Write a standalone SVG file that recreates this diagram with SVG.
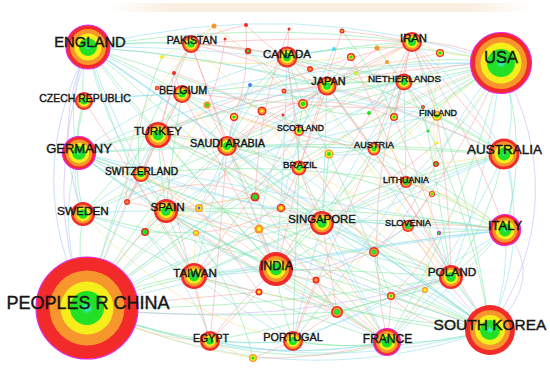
<svg xmlns="http://www.w3.org/2000/svg" width="550" height="376" viewBox="0 0 550 376">
<defs>
<radialGradient id="core"><stop offset="0" stop-color="#3cf0ff"/><stop offset="0.35" stop-color="#22e02a"/><stop offset="1" stop-color="#22e022"/></radialGradient>
<linearGradient id="band" x1="0" x2="1"><stop offset="0" stop-color="#f8ead8" stop-opacity="0"/><stop offset="0.15" stop-color="#f8ead8"/><stop offset="0.85" stop-color="#f8ead8"/><stop offset="1" stop-color="#f8ead8" stop-opacity="0"/></linearGradient>
<style>
#edges path{fill:none;stroke-width:.65;opacity:.85}
.g{stroke:#7ee6a0}.c{stroke:#8edcec}.r{stroke:#f6a4a4}.y{stroke:#f2e284}.o{stroke:#f6c290}.p{stroke:#c4b0f0}.b{stroke:#a0c0f0}
.R{fill:#f22a2a}.O{fill:#f7962c}.Y{fill:#f5ee1a}.G{fill:url(#core)}.Gs{fill:#22e022}.M{stroke:#e428e4;stroke-width:1.2}
text{font-family:"Liberation Sans",Arial,sans-serif;fill:#151515;text-anchor:middle;stroke:#151515;stroke-width:.4}
</style>
</defs>
<rect width="550" height="376" fill="#fff"/>
<rect x="110" y="3" width="420" height="9" rx="4" fill="url(#band)" opacity="0.8"/>
<g id="edges">
<path class="c" d="M501 63Q296 -7 88 47"/>
<path class="g" d="M501 63Q394 35 287 57"/>
<path class="r" d="M501 63Q452 40 412 42"/>
<path class="g" d="M501 63Q410 50 327 86"/>
<path class="c" d="M501 63Q450 60 404 82"/>
<path class="y" d="M501 63Q455 80 437 116"/>
<path class="c" d="M501 63Q520 110 504 154"/>
<path class="g" d="M501 63Q530 145 505 230"/>
<path class="p" d="M501 63Q575 200 490 330"/>
<path class="g" d="M501 63Q280 150 87 308"/>
<path class="c" d="M501 63Q290 60 78 153"/>
<path class="g" d="M501 63Q370 145 276 269"/>
<path class="y" d="M501 63Q400 130 322 223"/>
<path class="c" d="M501 63Q490 170 451 277"/>
<path class="g" d="M501 63Q470 200 387 342"/>
<path class="r" d="M501 63Q320 70 158 134"/>
<path class="c" d="M501 63Q320 110 166 211"/>
<path class="o" d="M501 63Q390 100 299 168"/>
<path class="g" d="M501 63Q440 100 374 149"/>
<path class="c" d="M501 63Q470 125 406 182"/>
<path class="r" d="M501 63Q470 140 408 226"/>
<path class="g" d="M501 63Q350 80 227 146"/>
<path class="c" d="M501 63Q330 150 194 276"/>
<path class="y" d="M501 63Q420 190 293 341"/>
<path class="g" d="M501 63Q280 110 83 214"/>
<path class="c" d="M501 63Q340 60 182 94"/>
<path class="y" d="M501 63Q470 55 440 53"/>
<path class="c" d="M501 63Q460 110 436 164"/>
<path class="c" d="M87 308Q290 400 490 330"/>
<path class="b" d="M87 308Q20 180 88 47"/>
<path class="p" d="M87 308Q40 200 88 47"/>
<path class="c" d="M87 308Q55 230 78 153"/>
<path class="g" d="M87 308Q75 260 83 214"/>
<path class="g" d="M87 308Q140 280 194 276"/>
<path class="g" d="M87 308Q180 270 276 269"/>
<path class="c" d="M87 308Q200 240 322 223"/>
<path class="o" d="M87 308Q150 340 210 341"/>
<path class="g" d="M87 308Q190 350 293 341"/>
<path class="c" d="M87 308Q240 370 387 342"/>
<path class="g" d="M87 308Q270 310 451 277"/>
<path class="c" d="M87 308Q300 250 505 230"/>
<path class="g" d="M87 308Q300 200 504 154"/>
<path class="r" d="M87 308Q120 250 166 211"/>
<path class="c" d="M87 308Q110 210 158 134"/>
<path class="g" d="M87 308Q150 210 227 146"/>
<path class="c" d="M87 308Q200 180 327 86"/>
<path class="g" d="M87 308Q170 160 287 57"/>
<path class="y" d="M87 308Q230 150 412 42"/>
<path class="g" d="M87 308Q120 170 191 44"/>
<path class="o" d="M87 308Q120 200 182 94"/>
<path class="c" d="M87 308Q110 240 141 174"/>
<path class="g" d="M87 308Q190 230 299 168"/>
<path class="c" d="M87 308Q250 180 404 82"/>
<path class="r" d="M87 308Q170 300 259 292"/>
<path class="y" d="M87 308Q170 345 253 358"/>
<path class="g" d="M87 308Q210 320 337 312"/>
<path class="c" d="M87 308Q140 250 199 208"/>
<path class="g" d="M87 308Q290 380 387 342"/>
<path class="c" d="M490 330Q510 280 505 230"/>
<path class="g" d="M490 330Q470 300 451 277"/>
<path class="c" d="M490 330Q440 345 387 342"/>
<path class="g" d="M490 330Q380 310 276 269"/>
<path class="c" d="M490 330Q400 285 322 223"/>
<path class="g" d="M490 330Q340 315 194 276"/>
<path class="c" d="M490 330Q530 240 504 154"/>
<path class="g" d="M490 330Q390 355 293 341"/>
<path class="c" d="M490 330Q250 160 88 47"/>
<path class="g" d="M490 330Q280 230 78 153"/>
<path class="r" d="M490 330Q410 200 327 86"/>
<path class="c" d="M490 330Q390 180 287 57"/>
<path class="g" d="M490 330Q330 260 166 211"/>
<path class="c" d="M490 330Q350 370 210 341"/>
<path class="r" d="M490 330Q440 280 408 226"/>
<path class="y" d="M490 330Q440 310 391 296"/>
<path class="g" d="M490 330Q455 305 425 290"/>
<path class="c" d="M490 330Q330 210 158 134"/>
<path class="g" d="M490 330Q470 180 412 42"/>
<path class="p" d="M490 330Q548 280 505 230"/>
<path class="c" d="M88 47Q65 100 78 153"/>
<path class="g" d="M88 47Q80 75 84 101"/>
<path class="c" d="M88 47Q140 40 191 44"/>
<path class="g" d="M88 47Q135 65 182 94"/>
<path class="c" d="M88 47Q120 95 158 134"/>
<path class="g" d="M88 47Q190 35 287 57"/>
<path class="c" d="M88 47Q300 60 504 154"/>
<path class="g" d="M88 47Q300 110 505 230"/>
<path class="c" d="M88 47Q115 130 166 211"/>
<path class="p" d="M88 47Q50 130 83 214"/>
<path class="g" d="M88 47Q170 150 276 269"/>
<path class="c" d="M88 47Q200 120 322 223"/>
<path class="g" d="M88 47Q250 180 387 342"/>
<path class="c" d="M88 47Q160 95 227 146"/>
<path class="g" d="M88 47Q210 55 327 86"/>
<path class="c" d="M88 47Q250 45 404 82"/>
<path class="g" d="M88 47Q250 20 412 42"/>
<path class="c" d="M88 47Q100 115 141 174"/>
<path class="g" d="M88 47Q120 170 194 276"/>
<path class="c" d="M78 153Q70 185 83 214"/>
<path class="g" d="M78 153Q75 127 84 101"/>
<path class="g" d="M78 153Q110 160 141 174"/>
<path class="c" d="M78 153Q120 185 166 211"/>
<path class="g" d="M78 153Q118 140 158 134"/>
<path class="c" d="M78 153Q290 200 505 230"/>
<path class="g" d="M78 153Q290 140 504 154"/>
<path class="c" d="M78 153Q220 260 387 342"/>
<path class="g" d="M78 153Q170 220 276 269"/>
<path class="c" d="M78 153Q220 140 374 149"/>
<path class="g" d="M78 153Q240 100 404 82"/>
<path class="c" d="M78 153Q130 115 182 94"/>
<path class="g" d="M78 153Q260 230 451 277"/>
<path class="c" d="M78 153Q200 190 322 223"/>
<path class="c" d="M505 230Q520 190 504 154"/>
<path class="g" d="M505 230Q480 250 451 277"/>
<path class="c" d="M505 230Q450 290 387 342"/>
<path class="g" d="M505 230Q330 200 166 211"/>
<path class="c" d="M505 230Q390 240 276 269"/>
<path class="g" d="M505 230Q410 215 322 223"/>
<path class="r" d="M505 230Q455 222 408 226"/>
<path class="c" d="M505 230Q350 250 194 276"/>
<path class="g" d="M505 230Q470 230 439 233"/>
<path class="r" d="M505 230Q470 130 412 42"/>
<path class="g" d="M505 230Q330 160 158 134"/>
<path class="c" d="M505 230Q400 300 293 341"/>
<path class="y" d="M505 230Q455 200 406 182"/>
<path class="g" d="M505 230Q440 180 374 149"/>
<path class="g" d="M504 154Q410 180 322 223"/>
<path class="c" d="M504 154Q390 200 276 269"/>
<path class="g" d="M504 154Q490 220 451 277"/>
<path class="c" d="M504 154Q460 250 387 342"/>
<path class="g" d="M504 154Q470 130 437 116"/>
<path class="c" d="M504 154Q470 90 412 42"/>
<path class="r" d="M504 154Q410 110 327 86"/>
<path class="g" d="M504 154Q400 90 287 57"/>
<path class="c" d="M504 154Q350 210 194 276"/>
<path class="y" d="M504 154Q470 160 436 164"/>
<path class="c" d="M504 154Q450 110 404 82"/>
<path class="g" d="M504 154Q360 140 227 146"/>
<path class="g" d="M387 342Q340 350 293 341"/>
<path class="c" d="M387 342Q420 305 451 277"/>
<path class="g" d="M387 342Q330 300 276 269"/>
<path class="c" d="M387 342Q350 280 322 223"/>
<path class="g" d="M387 342Q280 270 166 211"/>
<path class="c" d="M387 342Q300 360 210 341"/>
<path class="r" d="M387 342Q360 325 337 312"/>
<path class="r" d="M387 342Q390 320 391 296"/>
<path class="g" d="M387 342Q290 310 194 276"/>
<path class="c" d="M387 342Q340 250 299 168"/>
<path class="y" d="M387 342Q280 220 182 94"/>
<path class="r" d="M387 342Q350 310 316 280"/>
<path class="g" d="M276 269Q300 240 322 223"/>
<path class="c" d="M276 269Q235 275 194 276"/>
<path class="r" d="M276 269Q240 300 210 341"/>
<path class="g" d="M276 269Q280 305 293 341"/>
<path class="c" d="M276 269Q250 205 227 146"/>
<path class="r" d="M276 269Q230 150 191 44"/>
<path class="g" d="M276 269Q215 200 158 134"/>
<path class="c" d="M276 269Q220 240 166 211"/>
<path class="g" d="M276 269Q360 270 451 277"/>
<path class="r" d="M276 269Q290 220 299 168"/>
<path class="o" d="M276 269Q265 250 259 229"/>
<path class="r" d="M276 269Q295 278 316 280"/>
<path class="r" d="M276 269Q350 150 412 42"/>
<path class="c" d="M276 269Q285 160 287 57"/>
<path class="r" d="M158 134Q192 135 227 146"/>
<path class="g" d="M158 134Q160 172 166 211"/>
<path class="r" d="M158 134Q170 90 191 44"/>
<path class="r" d="M158 134Q290 70 412 42"/>
<path class="g" d="M158 134Q168 113 182 94"/>
<path class="c" d="M158 134Q148 155 141 174"/>
<path class="r" d="M158 134Q180 240 210 341"/>
<path class="c" d="M158 134Q240 100 327 86"/>
<path class="g" d="M158 134Q240 180 322 223"/>
<path class="r" d="M191 44Q210 95 227 146"/>
<path class="r" d="M191 44Q240 45 287 57"/>
<path class="o" d="M191 44Q202 33 214 26"/>
<path class="r" d="M191 44Q220 30 246 25"/>
<path class="y" d="M191 44Q175 48 162 57"/>
<path class="r" d="M191 44Q220 45 248 51"/>
<path class="r" d="M191 44Q300 35 412 42"/>
<path class="r" d="M191 44Q180 60 174 73"/>
<path class="r" d="M191 44Q260 60 327 86"/>
<path class="r" d="M412 42Q405 62 404 82"/>
<path class="g" d="M412 42Q350 45 287 57"/>
<path class="r" d="M412 42Q370 60 327 86"/>
<path class="y" d="M412 42Q425 45 440 53"/>
<path class="r" d="M412 42Q425 80 437 116"/>
<path class="o" d="M412 42Q395 44 377 48"/>
<path class="r" d="M412 42Q320 90 227 146"/>
<path class="r" d="M412 42Q400 80 394 117"/>
<path class="r" d="M412 42Q377 34 342 31"/>
<path class="r" d="M412 42Q390 100 374 149"/>
<path class="g" d="M287 57Q305 70 327 86"/>
<path class="r" d="M287 57Q288 43 289 29"/>
<path class="c" d="M287 57Q310 52 334 49"/>
<path class="r" d="M287 57Q298 62 310 69"/>
<path class="c" d="M287 57Q235 70 182 94"/>
<path class="g" d="M287 57Q250 100 227 146"/>
<path class="c" d="M287 57Q290 95 299 131"/>
<path class="g" d="M287 57Q345 65 404 82"/>
<path class="r" d="M287 57Q295 110 299 168"/>
<path class="g" d="M287 57Q295 80 303 104"/>
<path class="g" d="M327 86Q365 80 404 82"/>
<path class="c" d="M327 86Q312 110 299 131"/>
<path class="r" d="M327 86Q340 70 351 57"/>
<path class="g" d="M327 86Q340 78 356 73"/>
<path class="r" d="M327 86Q315 95 303 104"/>
<path class="r" d="M327 86Q315 125 299 168"/>
<path class="g" d="M327 86Q350 115 374 149"/>
<path class="c" d="M327 86Q325 155 322 223"/>
<path class="r" d="M327 86Q275 110 227 146"/>
<path class="r" d="M327 86Q305 88 284 91"/>
<path class="c" d="M404 82Q420 98 437 116"/>
<path class="g" d="M404 82Q390 115 374 149"/>
<path class="r" d="M404 82Q398 100 394 117"/>
<path class="r" d="M404 82Q414 95 423 107"/>
<path class="g" d="M404 82Q385 98 369 113"/>
<path class="c" d="M404 82Q405 130 406 182"/>
<path class="g" d="M404 82Q290 80 182 94"/>
<path class="o" d="M404 82Q395 70 387 62"/>
<path class="c" d="M404 82Q360 150 322 223"/>
<path class="r" d="M227 146Q230 130 234 117"/>
<path class="o" d="M227 146Q245 128 262 111"/>
<path class="r" d="M227 146Q215 125 207 105"/>
<path class="r" d="M227 146Q195 180 166 211"/>
<path class="r" d="M227 146Q220 245 210 341"/>
<path class="c" d="M227 146Q210 210 194 276"/>
<path class="g" d="M227 146Q275 185 322 223"/>
<path class="g" d="M227 146Q240 172 255 197"/>
<path class="b" d="M227 146Q235 115 250 85"/>
<path class="g" d="M227 146Q262 155 299 168"/>
<path class="r" d="M182 94Q170 90 157 88"/>
<path class="g" d="M182 94Q195 100 207 105"/>
<path class="c" d="M182 94Q130 95 84 101"/>
<path class="r" d="M182 94Q160 135 141 174"/>
<path class="g" d="M182 94Q172 150 166 211"/>
<path class="c" d="M182 94Q240 110 299 131"/>
<path class="r" d="M182 94Q178 84 174 73"/>
<path class="r" d="M166 211Q146 205 127 202"/>
<path class="o" d="M166 211Q182 208 199 208"/>
<path class="g" d="M166 211Q155 222 145 232"/>
<path class="y" d="M166 211Q180 222 196 233"/>
<path class="c" d="M166 211Q125 210 83 214"/>
<path class="g" d="M166 211Q150 192 141 174"/>
<path class="g" d="M166 211Q180 245 194 276"/>
<path class="c" d="M166 211Q230 280 293 341"/>
<path class="g" d="M166 211Q245 210 322 223"/>
<path class="r" d="M166 211Q210 202 255 197"/>
<path class="o" d="M166 211Q210 222 259 229"/>
<path class="c" d="M83 214Q110 190 141 174"/>
<path class="g" d="M83 214Q70 157 84 101"/>
<path class="g" d="M83 214Q140 250 194 276"/>
<path class="c" d="M83 214Q115 225 145 232"/>
<path class="c" d="M83 214Q260 140 437 116"/>
<path class="g" d="M83 214Q118 172 158 134"/>
<path class="o" d="M194 276Q200 310 210 341"/>
<path class="y" d="M194 276Q194 255 196 233"/>
<path class="r" d="M194 276Q225 285 259 292"/>
<path class="g" d="M194 276Q260 245 322 223"/>
<path class="g" d="M194 276Q168 255 145 232"/>
<path class="c" d="M194 276Q240 310 293 341"/>
<path class="o" d="M194 276Q225 250 259 229"/>
<path class="g" d="M322 223Q365 220 408 226"/>
<path class="r" d="M322 223Q300 214 281 208"/>
<path class="o" d="M322 223Q290 225 259 229"/>
<path class="g" d="M322 223Q348 238 374 252"/>
<path class="r" d="M322 223Q308 195 299 168"/>
<path class="g" d="M322 223Q325 188 329 154"/>
<path class="c" d="M322 223Q365 200 406 182"/>
<path class="g" d="M322 223Q385 245 451 277"/>
<path class="c" d="M322 223Q305 285 293 341"/>
<path class="r" d="M322 223Q330 268 337 312"/>
<path class="g" d="M322 223Q348 185 374 149"/>
<path class="y" d="M451 277Q438 283 425 290"/>
<path class="r" d="M451 277Q420 285 391 296"/>
<path class="r" d="M451 277Q430 250 408 226"/>
<path class="g" d="M451 277Q430 230 406 182"/>
<path class="c" d="M451 277Q445 255 439 233"/>
<path class="g" d="M451 277Q412 262 374 252"/>
<path class="c" d="M451 277Q370 310 293 341"/>
<path class="g" d="M451 277Q330 320 210 341"/>
<path class="r" d="M293 341Q273 350 253 358"/>
<path class="c" d="M293 341Q250 345 210 341"/>
<path class="r" d="M293 341Q315 325 337 312"/>
<path class="r" d="M293 341Q303 310 316 280"/>
<path class="g" d="M293 341Q295 255 299 168"/>
<path class="r" d="M210 341Q235 315 259 292"/>
<path class="y" d="M210 341Q230 352 253 358"/>
<path class="y" d="M437 143Q438 130 437 116"/>
<path class="g" d="M428 131Q432 123 437 116"/>
<path class="c" d="M436 164Q420 172 406 182"/>
<path class="r" d="M432 194Q420 186 406 182"/>
<path class="r" d="M432 194Q420 210 408 226"/>
<path class="g" d="M329 154Q314 160 299 168"/>
<path class="g" d="M329 154Q352 150 374 149"/>
<path class="c" d="M374 149Q390 165 406 182"/>
<path class="c" d="M374 149Q336 138 299 131"/>
<path class="g" d="M299 131Q298 150 299 168"/>
<path class="g" d="M299 131Q300 118 303 104"/>
<path class="g" d="M255 197Q277 183 299 168"/>
<path class="r" d="M281 208Q290 188 299 168"/>
<path class="o" d="M199 208Q170 190 141 174"/>
<path class="r" d="M127 202Q133 188 141 174"/>
<path class="g" d="M145 232Q170 232 196 233"/>
<path class="g" d="M374 252Q390 238 408 226"/>
<path class="r" d="M316 280Q326 296 337 312"/>
<path class="c" d="M84 101Q260 80 437 116"/>
<path class="g" d="M141 174Q270 160 406 182"/>
<path class="c" d="M141 174Q320 230 505 230"/>
<path class="g" d="M83 214Q290 260 490 330"/>
<path class="c" d="M88 47Q300 150 490 330"/>
<path class="g" d="M182 94Q340 220 490 330"/>
<path class="c" d="M227 146Q360 240 490 330"/>
<path class="g" d="M166 211Q320 330 490 330"/>
<path class="p" d="M87 308Q280 330 451 277"/>
<path class="b" d="M78 153Q300 270 490 330"/>
<path class="r" d="M157 88Q230 100 303 104"/>
<path class="y" d="M162 57Q250 70 351 57"/>
<path class="r" d="M174 73Q240 95 299 131"/>
<path class="o" d="M214 26Q260 60 284 91"/>
<path class="r" d="M246 25Q250 80 234 117"/>
<path class="g" d="M248 51Q300 90 329 154"/>
<path class="r" d="M207 105Q300 140 374 149"/>
<path class="y" d="M234 117Q290 130 329 154"/>
<path class="r" d="M262 111Q330 90 394 117"/>
<path class="c" d="M250 85Q330 100 404 82"/>
<path class="r" d="M303 104Q360 110 423 107"/>
<path class="g" d="M284 91Q330 120 369 113"/>
<path class="o" d="M310 69Q370 70 440 53"/>
<path class="r" d="M342 31Q320 100 299 168"/>
<path class="y" d="M356 73Q400 120 436 164"/>
<path class="r" d="M351 57Q380 120 406 182"/>
<path class="g" d="M377 48Q400 80 423 107"/>
<path class="r" d="M289 29Q260 100 255 197"/>
<path class="c" d="M334 49Q300 120 281 208"/>
<path class="r" d="M283 115Q320 180 374 252"/>
<path class="y" d="M369 113Q400 170 432 194"/>
<path class="r" d="M394 117Q420 180 439 233"/>
<path class="g" d="M329 154Q360 220 391 296"/>
<path class="r" d="M255 197Q300 260 337 312"/>
<path class="o" d="M259 229Q300 260 316 280"/>
<path class="y" d="M281 208Q330 260 374 252"/>
<path class="r" d="M199 208Q230 250 259 292"/>
<path class="g" d="M196 233Q240 300 253 358"/>
<path class="c" d="M145 232Q200 300 210 341"/>
<path class="r" d="M127 202Q200 170 255 197"/>
<path class="y" d="M207 105Q170 160 145 232"/>
<path class="r" d="M174 73Q160 150 127 202"/>
<path class="g" d="M162 57Q130 130 141 174"/>
<path class="o" d="M157 88Q120 140 127 202"/>
<path class="r" d="M262 111Q230 170 199 208"/>
<path class="c" d="M303 104Q270 150 259 229"/>
<path class="r" d="M436 164Q400 230 374 252"/>
<path class="y" d="M432 194Q430 240 425 290"/>
<path class="r" d="M439 233Q420 270 391 296"/>
<path class="g" d="M423 107Q440 200 451 277"/>
<path class="r" d="M437 143Q380 190 322 223"/>
<path class="c" d="M428 131Q370 160 329 154"/>
<path class="y" d="M440 53Q430 110 436 164"/>
<path class="r" d="M377 48Q340 80 303 104"/>
<path class="o" d="M387 62Q340 110 299 131"/>
<path class="g" d="M342 31Q380 80 394 117"/>
<path class="r" d="M225 39Q220 80 207 105"/>
<path class="r" d="M246 25Q280 60 310 69"/>
<path class="y" d="M214 26Q180 60 157 88"/>
<path class="c" d="M250 85Q230 150 199 208"/>
<path class="r" d="M316 280Q350 260 374 252"/>
<path class="g" d="M337 312Q380 300 425 290"/>
<path class="r" d="M391 296Q420 330 490 330"/>
<path class="y" d="M425 290Q410 320 387 342"/>
<path class="o" d="M259 292Q300 300 337 312"/>
<path class="r" d="M253 358Q320 360 387 342"/>
<path class="g" d="M374 252Q380 300 391 296"/>
<path class="c" d="M259 229Q310 210 374 252"/>
<path class="r" d="M196 233Q240 230 281 208"/>
<path class="y" d="M145 232Q200 200 255 197"/>
<path class="r" d="M412 42Q460 100 504 154"/>
<path class="y" d="M191 44Q300 140 322 223"/>
<path class="r" d="M182 94Q230 180 276 269"/>
<path class="o" d="M227 146Q300 200 387 342"/>
<path class="r" d="M327 86Q400 180 451 277"/>
<path class="y" d="M287 57Q360 150 408 226"/>
<path class="r" d="M404 82Q360 200 387 342"/>
<path class="o" d="M158 134Q300 200 451 277"/>
<path class="r" d="M166 211Q250 270 337 312"/>
<path class="y" d="M299 168Q380 200 451 277"/>
<path class="r" d="M374 149Q330 250 293 341"/>
<path class="c" d="M406 182Q350 270 293 341"/>
<path class="p" d="M408 226Q330 280 276 269"/>
<path class="r" d="M299 131Q250 200 194 276"/>
<path class="y" d="M83 214Q180 320 293 341"/>
<path class="r" d="M84 101Q150 200 194 276"/>
<path class="o" d="M141 174Q250 250 387 342"/>
<path class="g" d="M404 82Q470 200 490 330"/>
<path class="r" d="M437 116Q450 200 451 277"/>
<path class="y" d="M406 182Q470 200 505 230"/>
</g>
<g id="n1"><circle class="O" cx="214" cy="26" r="2.5"/></g>
<g id="n2"><circle class="R" cx="246" cy="25" r="2"/></g>
<g id="n3"><circle class="R" cx="225" cy="39" r="1.5"/></g>
<g id="n4"><circle class="R" cx="248" cy="51" r="3.2"/><circle class="Gs" cx="248" cy="51" r="1.4"/></g>
<g id="n5"><circle class="Y" cx="162" cy="57" r="2"/></g>
<g id="n6"><circle class="R" cx="174" cy="73" r="2"/></g>
<g id="n7"><circle class="R" cx="157" cy="88" r="2.2"/><circle class="O" cx="157" cy="88" r="1.2"/></g>
<g id="n8"><circle fill="#3a82f0" cx="250" cy="85" r="2"/></g>
<g id="n9"><circle class="O" cx="207" cy="105" r="3.6"/><circle class="Gs" cx="207" cy="105" r="1.8"/></g>
<g id="n10"><circle class="R" cx="234" cy="117" r="4.2"/><circle class="Y" cx="234" cy="117" r="2.7"/><circle class="Gs" cx="234" cy="117" r="1.6"/></g>
<g id="n11"><circle class="R" cx="262" cy="111" r="4.5"/><circle class="O" cx="262" cy="111" r="3"/><circle class="Y" cx="262" cy="111" r="1.6"/></g>
<g id="n12"><circle class="R" cx="440" cy="53" r="4"/><circle class="Y" cx="440" cy="53" r="2.8"/><circle class="G" cx="440" cy="53" r="1.8"/></g>
<g id="n13"><circle class="R" cx="289" cy="29" r="1.5"/></g>
<g id="n14"><circle class="R" cx="342" cy="31" r="2.5"/><circle class="O" cx="342" cy="31" r="1.3"/></g>
<g id="n15"><circle fill="#40e0f4" cx="334" cy="49" r="2"/></g>
<g id="n16"><circle class="R" cx="351" cy="57" r="4"/><circle class="Y" cx="351" cy="57" r="2.6"/><circle class="Gs" cx="351" cy="57" r="1.6"/></g>
<g id="n17"><circle class="O" cx="377" cy="48" r="2.5"/></g>
<g id="n18"><circle class="O" cx="387" cy="62" r="2"/></g>
<g id="n19"><circle class="R" cx="310" cy="69" r="3"/><circle class="O" cx="310" cy="69" r="1.6"/></g>
<g id="n20"><circle fill="#c4f020" cx="356" cy="73" r="2"/></g>
<g id="n21"><circle class="R" cx="284" cy="91" r="2.5"/><circle class="O" cx="284" cy="91" r="1.3"/></g>
<g id="n22"><circle class="R" cx="303" cy="104" r="5"/><circle class="Y" cx="303" cy="104" r="3.4"/><circle class="Gs" cx="303" cy="104" r="2.4"/></g>
<g id="n23"><circle class="R" cx="283" cy="115" r="1.5"/></g>
<g id="n24"><circle class="Gs" cx="369" cy="113" r="2"/></g>
<g id="n25"><circle class="R" cx="394" cy="117" r="4"/><circle class="Y" cx="394" cy="117" r="2.6"/><circle class="Gs" cx="394" cy="117" r="1.5"/></g>
<g id="n26"><circle class="R" cx="423" cy="107" r="2"/><circle class="Gs" cx="423" cy="107" r="1"/></g>
<g id="n27"><circle class="Gs" cx="428" cy="131" r="1.5"/></g>
<g id="n28"><circle class="Y" cx="437" cy="143" r="1.6"/></g>
<g id="n29"><circle class="O" cx="329" cy="154" r="4.5"/><circle class="Y" cx="329" cy="154" r="3.2"/><circle class="Gs" cx="329" cy="154" r="2"/></g>
<g id="n30"><circle class="R" cx="436" cy="164" r="3"/><circle class="Gs" cx="436" cy="164" r="1.5"/></g>
<g id="n31"><circle class="R" cx="127" cy="202" r="3"/><circle class="O" cx="127" cy="202" r="1.6"/></g>
<g id="n32"><circle class="O" cx="199" cy="208" r="4"/><circle class="Y" cx="199" cy="208" r="2.7"/><circle fill="#3a6af0" cx="199" cy="208" r="1.4"/></g>
<g id="n33"><circle class="R" cx="145" cy="232" r="4"/><circle class="Gs" cx="145" cy="232" r="2.6"/></g>
<g id="n34"><circle class="O" cx="196" cy="233" r="3"/><circle class="Y" cx="196" cy="233" r="1.8"/></g>
<g id="n35"><circle class="R" cx="255" cy="197" r="4.5"/><circle class="Gs" cx="255" cy="197" r="2.8"/></g>
<g id="n36"><circle class="O" cx="259" cy="229" r="4.5"/><circle class="Y" cx="259" cy="229" r="2.2"/></g>
<g id="n37"><circle class="R" cx="259" cy="292" r="3.5"/><circle class="Y" cx="259" cy="292" r="1.8"/></g>
<g id="n38"><circle class="O" cx="253" cy="358" r="4"/><circle class="Y" cx="253" cy="358" r="2.8"/><circle class="Gs" cx="253" cy="358" r="1.6"/></g>
<g id="n39"><circle class="R" cx="281" cy="208" r="4.3"/><circle class="O" cx="281" cy="208" r="3"/><circle class="Y" cx="281" cy="208" r="1.7"/></g>
<g id="n40"><circle class="R" cx="432" cy="194" r="3"/><circle class="Y" cx="432" cy="194" r="2"/><circle class="Gs" cx="432" cy="194" r="1.1"/></g>
<g id="n41"><circle fill="#b040e0" cx="439" cy="233" r="2.2"/><circle class="Gs" cx="439" cy="233" r="1.2"/></g>
<g id="n42"><circle class="R" cx="374" cy="252" r="5"/><circle class="O" cx="374" cy="252" r="3.6"/><circle class="G" cx="374" cy="252" r="2.4"/></g>
<g id="n43"><circle class="R" cx="316" cy="280" r="3.5"/><circle class="O" cx="316" cy="280" r="1.8"/></g>
<g id="n44"><circle class="R" cx="391" cy="296" r="4"/><circle class="Y" cx="391" cy="296" r="2.6"/><circle class="Gs" cx="391" cy="296" r="1.4"/></g>
<g id="n45"><circle class="O" cx="425" cy="290" r="3"/><circle class="Y" cx="425" cy="290" r="1.8"/></g>
<g id="n46"><circle class="R" cx="337" cy="312" r="6"/><circle class="O" cx="337" cy="312" r="4.4"/><circle class="G" cx="337" cy="312" r="2.8"/></g>
<g id="scotland" transform="translate(299,131)"><circle class="R" r="5"/><circle class="Y" r="3.4"/><circle class="G" r="2"/><text x="1.5" y="0" font-size="8.6">SCOTLAND</text></g>
<g id="finland" transform="translate(437,116)"><circle class="O" r="5"/><circle class="Y" r="3.4"/><circle class="G" r="2"/><text x="1" y="-0.5" font-size="8.9">FINLAND</text></g>
<g id="slovenia" transform="translate(408,226)"><circle class="R" r="6"/><circle class="O" r="4.5"/><circle class="G" r="3"/><text x="0" y="0" font-size="9.2">SLOVENIA</text></g>
<g id="lithuania" transform="translate(406,182)"><circle class="R" r="6"/><circle class="O" r="4.5"/><circle class="G" r="3"/><text x="0" y="0.5" font-size="8.8">LITHUANIA</text></g>
<g id="austria" transform="translate(374,149)"><circle class="R" r="6.5"/><circle class="O" r="5"/><circle class="Y" r="3.6"/><circle class="G" r="2.4"/><text x="0" y="-1.5" font-size="9.2">AUSTRIA</text></g>
<g id="brazil" transform="translate(299,168)"><circle class="R" r="7.5"/><circle class="O" r="5.8"/><circle class="Y" r="4.2"/><circle class="G" r="2.8"/><text x="1" y="-0.5" font-size="9.7">BRAZIL</text></g>
<g id="switzerland" transform="translate(141,174)"><circle class="R" r="8"/><circle class="O" r="6.4"/><circle class="Y" r="4.8"/><circle class="G" r="3.3"/><text x="0.5" y="0.5" font-size="10.2">SWITZERLAND</text></g>
<g id="netherlands" transform="translate(404,82)"><circle class="R" r="8.5"/><circle class="O" r="6.6"/><circle class="Y" r="5"/><circle class="G" r="3.4"/><text x="0.5" y="0" font-size="9.8">NETHERLANDS</text></g>
<g id="japan" transform="translate(327,86)"><circle class="R" r="9.5"/><circle class="O" r="7.5"/><circle class="Y" r="5.6"/><circle class="G" r="3.8"/><text x="1.5" y="-1" font-size="10.9">JAPAN</text></g>
<g id="belgium" transform="translate(182,94)"><circle class="R" r="9"/><circle class="O" r="7"/><circle class="Y" r="5.3"/><circle class="G" r="3.6"/><text x="1" y="0" font-size="10.7">BELGIUM</text></g>
<g id="czech" transform="translate(84,101)"><circle class="R" r="9"/><circle class="O" r="7"/><circle class="Y" r="5.3"/><circle class="G" r="3.6"/><text x="1" y="0.5" font-size="10.5">CZECH REPUBLIC</text></g>
<g id="pakistan" transform="translate(191,44)"><circle class="R" r="9"/><circle class="O" r="7"/><circle class="Y" r="5.3"/><circle class="G" r="3.6"/><text x="1" y="0" font-size="10.5">PAKISTAN</text></g>
<g id="portugal" transform="translate(293,341)"><circle class="R" r="10"/><circle class="O" r="8"/><circle class="Y" r="6"/><circle class="G" r="4"/><text x="0" y="0" font-size="10.9">PORTUGAL</text></g>
<g id="egypt" transform="translate(210,341)"><circle class="R" r="10"/><circle class="O" r="7.6"/><circle class="Y" r="5.4"/><circle class="G" r="3.6"/><text x="1" y="0.5" font-size="10.6">EGYPT</text></g>
<g id="saudi" transform="translate(227,146)"><circle class="R" r="10"/><circle class="O" r="8"/><circle class="Y" r="6"/><circle class="G" r="4"/><text x="0.5" y="0.5" font-size="10.8">SAUDI ARABIA</text></g>
<g id="iran" transform="translate(412,42)"><circle class="R" r="10"/><circle class="O" r="8"/><circle class="Y" r="6"/><circle class="G" r="4"/><text x="1.5" y="0" font-size="11.3">IRAN</text></g>
<g id="canada" transform="translate(287,57)"><circle class="R" r="10.5"/><circle class="O" r="8.4"/><circle class="Y" r="6.3"/><circle class="G" r="4.2"/><text x="0" y="1" font-size="11.5">CANADA</text></g>
<g id="poland" transform="translate(451,277)"><circle class="R" r="12"/><circle class="O" r="9.6"/><circle class="Y" r="7.2"/><circle class="G" r="4.8"/><text x="1" y="-1" font-size="11.8">POLAND</text></g>
<g id="singapore" transform="translate(322,223)"><circle class="R" r="12"/><circle class="O" r="9.6"/><circle class="Y" r="7.2"/><circle class="G" r="4.8"/><text x="0" y="0" font-size="11.4">SINGAPORE</text></g>
<g id="spain" transform="translate(166,211)"><circle class="R" r="12"/><circle class="O" r="9.6"/><circle class="Y" r="7.2"/><circle class="G" r="4.8"/><text x="1.5" y="0" font-size="11.7">SPAIN</text></g>
<g id="sweden" transform="translate(83,214)"><circle class="R" r="12"/><circle class="O" r="9.6"/><circle class="Y" r="7.2"/><circle class="G" r="4.8"/><text x="0" y="1" font-size="11.8">SWEDEN</text></g>
<g id="france" transform="translate(387,342)"><circle class="R M" r="13.5"/><circle class="O" r="11"/><circle class="Y" r="8.3"/><circle class="G" r="5.5"/><text x="0.5" y="1" font-size="12">FRANCE</text></g>
<g id="taiwan" transform="translate(194,276)"><circle class="R" r="13"/><circle class="O" r="10.4"/><circle class="Y" r="7.8"/><circle class="G" r="5.2"/><text x="1" y="0.5" font-size="11.5">TAIWAN</text></g>
<g id="turkey" transform="translate(158,135)"><circle class="R" r="13"/><circle class="O" r="10.4"/><circle class="Y" r="7.8"/><circle class="G" r="5.2"/><text x="0" y="0" font-size="11.8">TURKEY</text></g>
<g id="italy" transform="translate(505,230)"><circle class="R M" r="15.5"/><circle class="O" r="12.6"/><circle class="Y" r="9.6"/><circle class="G" r="6.4"/><text x="0" y="0" font-size="13">ITALY</text></g>
<g id="australia" transform="translate(504,154)"><circle class="R" r="15.5"/><circle class="O" r="12.6"/><circle class="Y" r="9.6"/><circle class="G" r="6.4"/><text x="0.5" y="0" font-size="13.5">AUSTRALIA</text></g>
<g id="germany" transform="translate(79,153)"><circle class="R M" r="16.5"/><circle class="O" r="13.4"/><circle class="Y" r="10.2"/><circle class="G" r="6.8"/><text x="0" y="0" font-size="13">GERMANY</text></g>
<g id="india" transform="translate(276,269)"><circle class="R" r="17"/><circle class="O" r="13"/><circle class="Y" r="9.6"/><circle class="G" r="6.2"/><text x="0.5" y="1" font-size="12.5">INDIA</text></g>
<g id="england" transform="translate(88,47)"><circle class="R M" r="22"/><circle class="O" r="18"/><circle class="Y" r="13.6"/><circle class="G" r="9"/><text x="2" y="0" font-size="14.8">ENGLAND</text></g>
<g id="skorea" transform="translate(490,330)"><circle class="R" r="25"/><circle class="O" r="20"/><circle class="Y" r="15"/><circle class="G" r="10"/><text x="0" y="0" font-size="15.5">SOUTH KOREA</text></g>
<g id="usa" transform="translate(501,63)"><circle class="R M" r="30.5"/><circle class="O" r="26"/><circle class="Y" r="20.5"/><circle class="G" r="14"/><text x="0" y="0" font-size="16.5">USA</text></g>
<g id="china" transform="translate(87,308)"><circle class="R M" r="51"/><circle class="O" r="37.5"/><circle class="Y" r="26.5"/><circle class="G" r="17"/><text x="1" y="1" font-size="18">PEOPLES R CHINA</text></g>
</svg>
